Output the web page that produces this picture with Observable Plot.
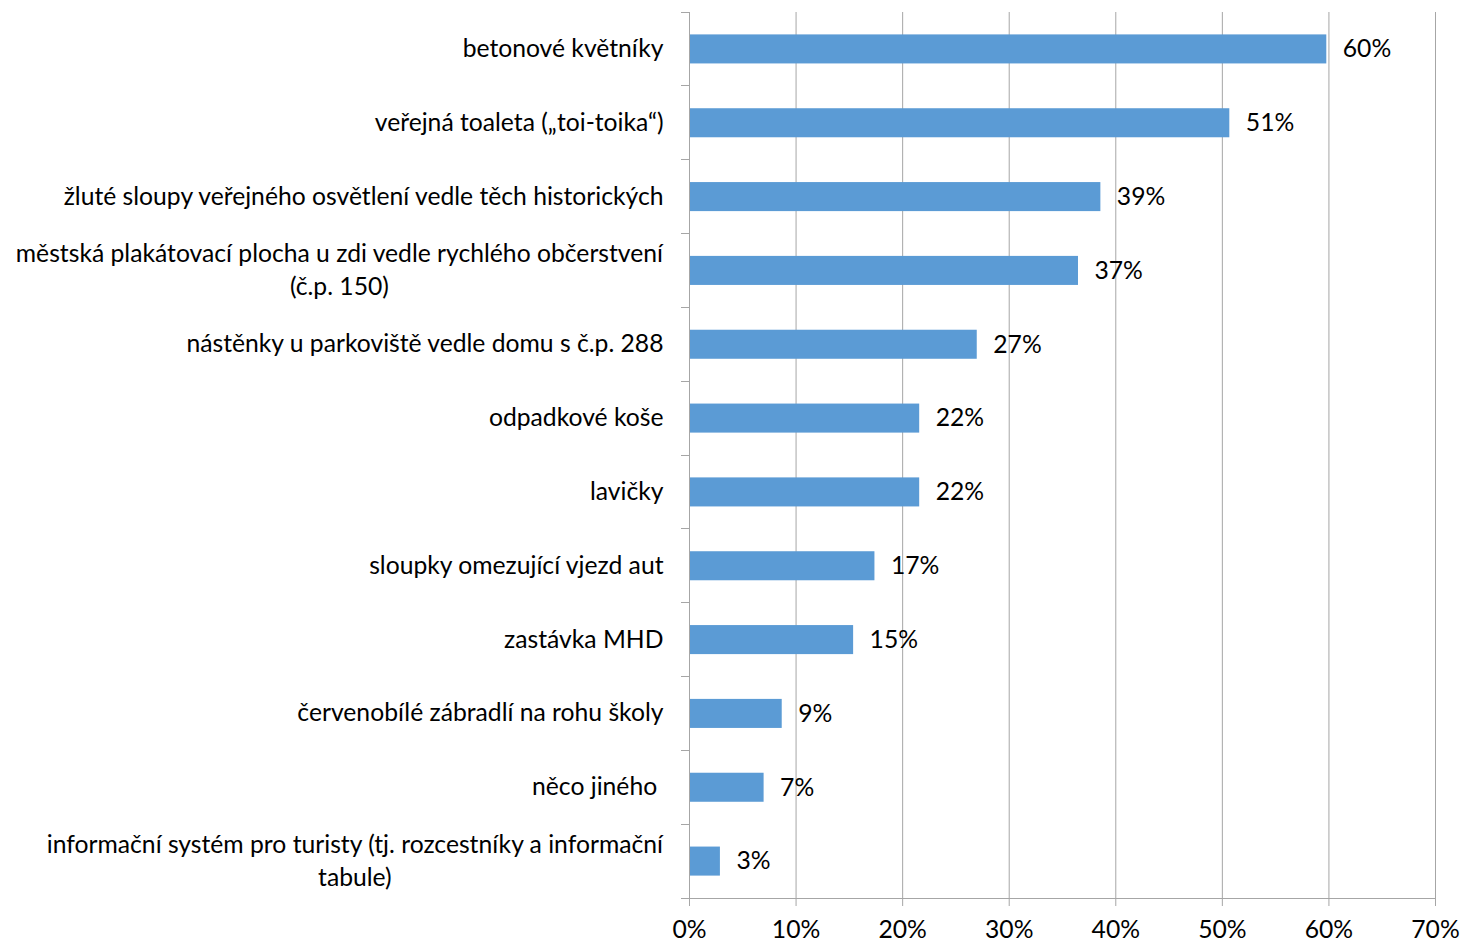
<!DOCTYPE html>
<html>
<head>
<meta charset="utf-8">
<script src="https://cdn.jsdelivr.net/npm/d3@7"></script>
<script src="https://cdn.jsdelivr.net/npm/@observablehq/plot@0.6"></script>
<style>
  html, body { margin: 0; padding: 0; background: #fff; }
  #chart svg { display: block; }
</style>
</head>
<body>
<div id="chart"></div>
<script>
const categories = [
  "betonové květníky",
  "veřejná toaleta („toi-toika“)",
  "žluté sloupy veřejného osvětlení vedle těch historických",
  "městská plakátovací plocha u zdi vedle rychlého občerstvení (č.p. 150)",
  "nástěnky u parkoviště vedle domu s č.p. 288",
  "odpadkové koše",
  "lavičky",
  "sloupky omezující vjezd aut",
  "zastávka MHD",
  "červenobílé zábradlí na rohu školy",
  "něco jiného ",
  "informační systém pro turisty (tj. rozcestníky a informační tabule)"
];
const axisLabels = [
  "betonové květníky",
  "veřejná toaleta („toi-toika“)",
  "žluté sloupy veřejného osvětlení vedle těch historických",
  "městská plakátovací plocha u zdi vedle rychlého občerstvení\n(č.p. 150)",
  "nástěnky u parkoviště vedle domu s č.p. 288",
  "odpadkové koše",
  "lavičky",
  "sloupky omezující vjezd aut",
  "zastávka MHD",
  "červenobílé zábradlí na rohu školy",
  "něco jiného ",
  "informační systém pro turisty (tj. rozcestníky a informační\ntabule)"
];
const values = [59.8, 50.7, 38.6, 36.5, 27.0, 21.6, 21.6, 17.4, 15.4, 8.7, 7.0, 2.9];
const valueLabels = ["60%", "51%", "39%", "37%", "27%", "22%", "22%", "17%", "15%", "9%", "7%", "3%"];
const xTicks = [0, 10, 20, 30, 40, 50, 60, 70];

const data = categories.map((c, i) => ({category: c, value: values[i], label: valueLabels[i]}));
const labelOf = new Map(categories.map((c, i) => [c, axisLabels[i]]));

const gridColor = "#a6a6a6";
const barColor = "#5b9bd5";
const FS = 24.7;

function axisLines(index, scales, vals, dims) {
  const {x, y} = scales;
  const top = dims.marginTop;
  const bottom = dims.height - dims.marginBottom;
  const bw = y.bandwidth ? y.bandwidth() : (bottom - top) / categories.length;
  const x0 = x(0);
  const bounds = categories.map(c => y(c));
  bounds.push(y(categories[categories.length - 1]) + bw);
  const g = d3.create("svg:g")
    .attr("stroke", gridColor)
    .attr("stroke-width", 1)
    .attr("fill", "none")
    .attr("shape-rendering", "crispEdges");
  g.append("line").attr("x1", x0).attr("x2", x0).attr("y1", top).attr("y2", bottom + 8);
  g.append("line").attr("x1", x0 - 8).attr("x2", x(70)).attr("y1", bottom).attr("y2", bottom);
  for (const b of bounds) {
    g.append("line").attr("x1", x0 - 8).attr("x2", x0).attr("y1", b).attr("y2", b);
  }
  return g.node();
}

const chart = Plot.plot({
  width: 1463,
  height: 942,
  marginLeft: 689,
  marginRight: 28,
  marginTop: 12,
  marginBottom: 44,
  style: {fontFamily: "Lato, 'Open Sans', sans-serif", fontSize: FS + "px", color: "#000", background: "#fff"},
  x: {domain: [0, 70], ticks: xTicks, label: null},
  y: {domain: categories, padding: 0, round: false, label: null},
  marks: [
    Plot.gridX(xTicks.filter(d => d > 0), {stroke: gridColor, strokeOpacity: 1}),
    Plot.barX(data, {x: "value", y: "category", fill: barColor, insetTop: 22.4, insetBottom: 22.4}),
    axisLines,
    Plot.axisX(xTicks, {
      tickFormat: d => d + "%",
      tickSize: 8,
      tickPadding: 14,
      stroke: gridColor,
      fill: "#000",
      fontSize: FS,
      label: null
    }),
    Plot.axisY({
      tickFormat: d => labelOf.get(d),
      tickSize: 0,
      tickPadding: 26,
      dy: -3,
      fontSize: FS,
      lineHeight: 1.33,
      fill: "#000",
      label: null
    }),
    Plot.text(data, {
      x: "value",
      y: "category",
      text: "label",
      dx: 16,
      textAnchor: "start",
      fontSize: FS,
      fill: "#000"
    })
  ]
});

document.getElementById("chart").appendChild(chart);

// Center multi-line category labels (as in the original), keeping their right edge aligned
chart.querySelectorAll('g[aria-label="y-axis tick label"] text').forEach(t => {
  const spans = t.querySelectorAll("tspan");
  if (spans.length > 1) {
    const w = t.getBBox().width;
    t.setAttribute("text-anchor", "middle");
    spans.forEach(s => s.setAttribute("x", -w / 2));
  }
});
</script>
</body>
</html>
